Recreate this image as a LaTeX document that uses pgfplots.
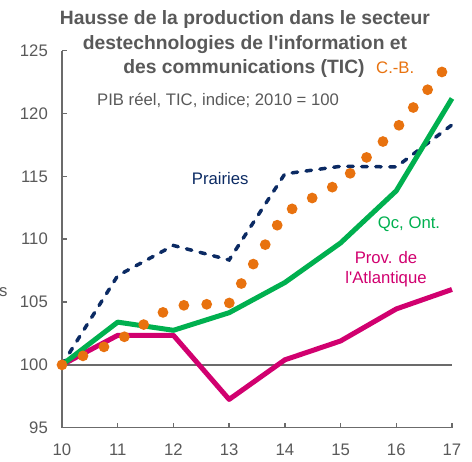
\documentclass[border=0pt]{standalone}
\usepackage{fontspec}
\setmainfont{Liberation Sans}
\usepackage{pgfplots}
\pgfplotsset{compat=1.18}
\definecolor{navyc}{HTML}{0B2A63}
\definecolor{orangec}{HTML}{E8720F}
\definecolor{greenc}{HTML}{00B04F}
\definecolor{magc}{HTML}{D1006F}
\definecolor{txtgray}{HTML}{595959}
\definecolor{axgray}{HTML}{6B6B6B}
\begin{document}
\begin{tikzpicture}
\begin{axis}[
  at={(62pt,34.3pt)}, anchor=south west,
  scale only axis, width=390pt, height=377pt,
  xmin=10, xmax=17, ymin=95, ymax=125,
  axis lines*=left,
  axis line style={axgray, line width=1.5pt},
  xtick={10,11,12,13,14,15,16,17}, ytick={95,100,105,110,115,120,125},
  tick align=inside, major tick length=5pt,
  tick style={axgray, line width=1.5pt},
  ticklabel style={font=\fontsize{16.7}{20}\selectfont, text=txtgray},
  /pgf/number format/assume math mode=true,
  yticklabel style={anchor=east, inner sep=0pt, xshift=-14pt},
  xticklabel style={anchor=north, inner sep=0pt, yshift=-16pt},
  clip=false,
]
\addplot[axgray, line width=2pt] coordinates {(10,100) (17,100)};
\addplot[navyc, line width=3.5pt, line cap=round, dash pattern=on 5.5pt off 8.5pt]
  coordinates {(10,100) (11,107.1) (12,109.5) (13,108.35) (14,115.2) (15,115.8) (16,115.75) (17,119.1)};
\addplot[magc, line width=5pt, line join=round]
  coordinates {(10,100) (11,102.35) (12,102.35) (13,97.25) (14,100.4) (15,101.9) (16,104.45) (17,106.0)};
\addplot[greenc, line width=5pt, line join=round]
  coordinates {(10,100) (11,103.4) (12,102.75) (13,104.15) (14,106.55) (15,109.7) (16,113.85) (17,121.2)};
\addplot[orangec, line width=10.8pt, line cap=round, dash pattern=on 0pt off 22.83pt]
  coordinates {(10,100) (11,101.9) (12,104.7) (13,104.9) (14,112.1) (15,114.5) (16,118.8) (17,124.3)};
\end{axis}
\begin{scope}[every node/.style={inner sep=0pt}]
\node[anchor=base, font=\bfseries\fontsize{19.3}{23}\selectfont, text=txtgray] at (245pt,437pt) {Hausse de la production dans le secteur};
\node[anchor=base, font=\bfseries\fontsize{19.3}{23}\selectfont, text=txtgray] at (245pt,412.5pt) {destechnologies de l\textquotesingle information et};
\node[anchor=base, font=\bfseries\fontsize{19.3}{23}\selectfont, text=txtgray] at (244pt,388pt) {des communications (TIC)};
\node[anchor=base west, font=\fontsize{16.7}{20}\selectfont, text=txtgray] at (97pt,356pt) {PIB réel, TIC, indice; 2010 = 100};
\node[anchor=base west, font=\fontsize{16.7}{20}\selectfont, text=orangec] at (376pt,388pt) {C.-B.};
\node[anchor=base west, font=\fontsize{16.7}{20}\selectfont, text=navyc] at (191.7pt,277pt) {Prairies};
\node[anchor=base west, font=\fontsize{16.7}{20}\selectfont, text=greenc] at (377.7pt,233.7pt) {Qc, Ont.};
\node[anchor=base, font=\fontsize{16.7}{20}\selectfont, text=magc] at (386pt,198pt) {Prov. de};
\node[anchor=base, font=\fontsize{16.7}{20}\selectfont, text=magc] at (386pt,178.7pt) {l\textquotesingle Atlantique};
\node[anchor=base west, font=\fontsize{16.7}{20}\selectfont, text=txtgray] at (-1pt,165pt) {s};
\end{scope}
\pgfresetboundingbox
\useasboundingbox (0,0) rectangle (472pt,462pt);
\end{tikzpicture}
\end{document}
